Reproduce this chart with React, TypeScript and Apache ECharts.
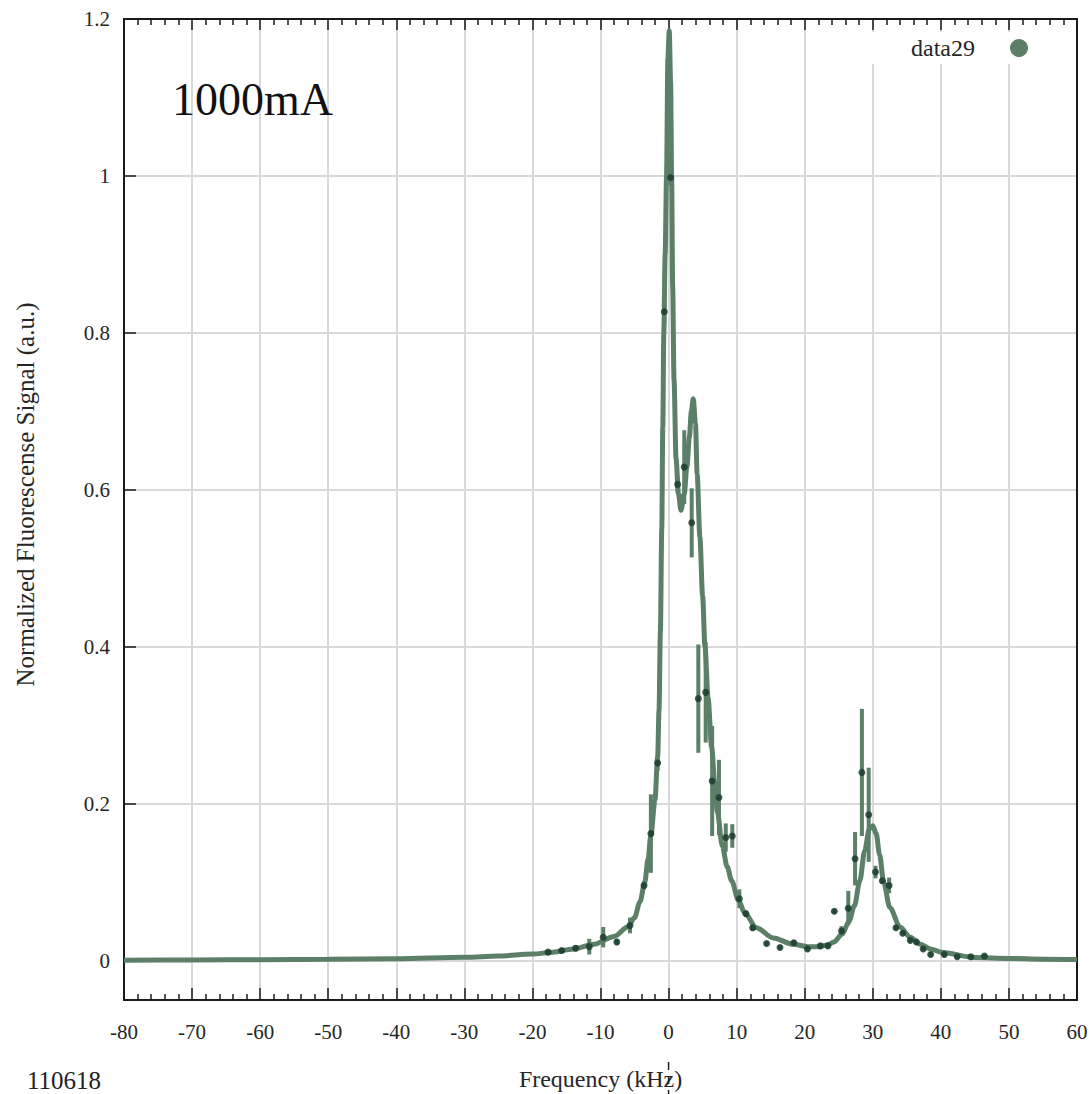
import React, { useEffect, useRef } from 'react';
import * as echarts from 'echarts';

// Measured points (frequency in kHz, normalized signal, error)
const pointFreq = [-17.7, -15.7, -13.65, -11.65, -9.6, -7.6, -5.67, -3.6, -2.6, -1.6, -0.63, 0.3, 1.33, 2.3, 3.4, 4.37, 5.45, 6.4, 7.4, 8.4, 9.36, 10.4, 11.37, 12.35, 14.4, 16.37, 18.4, 20.4, 22.3, 23.4, 24.35, 25.4, 26.4, 27.4, 28.4, 29.4, 30.4, 31.4, 32.4, 33.4, 34.4, 35.5, 36.4, 37.4, 38.5, 40.5, 42.4, 44.4, 46.4];
const pointSignal = [0.011, 0.013, 0.016, 0.018, 0.030, 0.024, 0.045, 0.096, 0.162, 0.252, 0.827, 0.998, 0.607, 0.629, 0.558, 0.334, 0.342, 0.229, 0.208, 0.157, 0.159, 0.079, 0.060, 0.042, 0.022, 0.017, 0.023, 0.015, 0.019, 0.019, 0.063, 0.038, 0.067, 0.130, 0.240, 0.186, 0.113, 0.102, 0.096, 0.042, 0.035, 0.026, 0.024, 0.015, 0.008, 0.008, 0.005, 0.005, 0.006];
const pointError = [0.003, 0.003, 0.004, 0.010, 0.013, 0.004, 0.010, 0.005, 0.050, 0.010, 0.015, 0.010, 0.010, 0.047, 0.044, 0.069, 0.064, 0.070, 0.048, 0.018, 0.015, 0.012, 0.004, 0.004, 0.003, 0.003, 0.003, 0.003, 0.003, 0.003, 0.003, 0.006, 0.022, 0.034, 0.081, 0.060, 0.008, 0.004, 0.010, 0.003, 0.003, 0.003, 0.003, 0.003, 0.003, 0.003, 0.003, 0.003, 0.003];

// Fitted curve
const fitFreq = [-80, -70, -60, -50, -40, -30, -25, -20, -17, -14, -11, -8, -6, -5, -4.2, -3.5, -3.0, -2.6, -2.0, -1.6, -1.4, -1.2, -1.0, -0.85, -0.7, -0.5, -0.3, -0.1, 0.1, 0.3, 0.45, 0.6, 0.8, 1.1, 1.45, 1.82, 2.3, 2.7, 3.05, 3.35, 3.63, 3.95, 4.2, 4.6, 5.0, 5.35, 5.8, 6.33, 6.8, 7.16, 7.9, 8.6, 9.27, 10.25, 11.2, 12.9, 15.4, 18.3, 20.5, 22, 23.3, 24.3, 25.5, 26.5, 27.3, 28.1, 28.8, 29.5, 30.0, 30.5, 31.0, 31.6, 32.5, 34, 35.5, 37, 38.5, 40, 45, 50, 55, 60];
const fitSignal = [0.0008, 0.001, 0.0013, 0.0018, 0.0027, 0.0045, 0.006, 0.0085, 0.011, 0.015, 0.021, 0.031, 0.043, 0.055, 0.075, 0.10, 0.13, 0.16, 0.205, 0.26, 0.32, 0.42, 0.55, 0.68, 0.80, 0.90, 1.0, 1.15, 1.185, 1.12, 1.0, 0.86, 0.74, 0.64, 0.595, 0.574, 0.595, 0.63, 0.667, 0.70, 0.716, 0.685, 0.62, 0.54, 0.465, 0.40, 0.335, 0.272, 0.225, 0.19, 0.146, 0.12, 0.102, 0.077, 0.061, 0.042, 0.029, 0.021, 0.018, 0.018, 0.020, 0.024, 0.034, 0.050, 0.070, 0.102, 0.140, 0.168, 0.172, 0.162, 0.135, 0.100, 0.068, 0.043, 0.030, 0.021, 0.015, 0.011, 0.004, 0.003, 0.002, 0.0015];

const yTickValues = [0, 0.2, 0.4, 0.6, 0.8, 1, 1.2];

const FONT = "'Liberation Serif', 'DejaVu Serif', serif";
const CURVE = '#5b7f67';
const DOT = '#17382a';
const AXIS = '#1a1a1a';
const LABEL = '#262626';
const GRID = '#d9d9d9';

export default function App() {
  const ref = useRef<HTMLDivElement>(null);
  useEffect(() => {
    const chart = echarts.init(ref.current!, undefined, { renderer: 'svg' });
    const texts = [
      {
        id: 'title',
        type: 'text',
        left: 172,
        top: 76,
        z: 50,
        style: { text: '1000mA', fontFamily: FONT, fontSize: 46, fill: '#111' },
      },
      {
        id: 'runId',
        type: 'text',
        left: 27,
        top: 1068,
        z: 50,
        style: { text: '110618', fontFamily: FONT, fontSize: 25, fill: '#222' },
      },
    ];
    const option: any = {
      animation: false,
      backgroundColor: '#ffffff',
      grid: { left: 124, right: 14, top: 19, bottom: 94, containLabel: false, outerBoundsMode: 'none' },
      legend: {
        data: [{ name: 'data29', icon: 'circle' }],
        right: 53,
        top: 32,
        align: 'right',
        itemWidth: 18,
        itemHeight: 18,
        padding: [4, 10, 4, 40],
        backgroundColor: '#ffffff',
        textStyle: { fontFamily: FONT, fontSize: 24, color: LABEL, padding: [0, 30, 0, 0] },
        selectedMode: false,
      },
      xAxis: [
        {
          type: 'value',
          position: 'bottom',
          min: -80,
          max: 60,
          interval: 10,
          name: 'Frequency (kHz)',
          nameLocation: 'middle',
          nameGap: 67,
          nameTextStyle: { fontFamily: FONT, fontSize: 24, color: LABEL },
          axisLine: { show: true, onZero: false, lineStyle: { color: AXIS, width: 2 } },
          axisTick: { show: true, inside: true, length: 12, lineStyle: { color: AXIS, width: 1.5 } },
          minorTick: { show: true, splitNumber: 5, length: 6, lineStyle: { color: AXIS, width: 1.5 } },
          axisLabel: { fontFamily: FONT, fontSize: 21, color: LABEL, margin: 21 },
          splitLine: { show: true, lineStyle: { color: GRID, width: 2 } },
        },
        {
          type: 'value',
          position: 'top',
          min: -80,
          max: 60,
          interval: 10,
          axisLine: { show: true, onZero: false, lineStyle: { color: AXIS, width: 2 } },
          axisTick: { show: true, inside: true, length: 11, lineStyle: { color: AXIS, width: 1.5 } },
          minorTick: { show: true, splitNumber: 5, length: 6, lineStyle: { color: AXIS, width: 1.5 } },
          axisLabel: { show: false },
          splitLine: { show: false },
        },
      ],
      yAxis: [
        {
          type: 'value',
          position: 'left',
          min: -0.05,
          max: 1.2,
          name: 'Normalized Fluorescense Signal (a.u.)',
          nameLocation: 'middle',
          nameGap: 86,
          nameTextStyle: { fontFamily: FONT, fontSize: 25, color: LABEL, padding: [0, 0, 0, 30] },
          axisLine: { show: true, onZero: false, lineStyle: { color: AXIS, width: 2 } },
          axisTick: { show: true, inside: true, length: 12, customValues: yTickValues, lineStyle: { color: AXIS, width: 1.5 } },
          axisLabel: { fontFamily: FONT, fontSize: 21, color: LABEL, margin: 14, customValues: yTickValues },
          splitLine: { show: true, lineStyle: { color: GRID, width: 2 } },
        },
        {
          type: 'value',
          position: 'right',
          min: -0.05,
          max: 1.2,
          axisLine: { show: true, onZero: false, lineStyle: { color: AXIS, width: 2 } },
          axisTick: { show: false },
          axisLabel: { show: false },
          splitLine: { show: false },
        },
      ],
      series: [
        {
          type: 'line',
          name: 'data29',
          data: fitFreq.map((x, i) => [x, fitSignal[i]]),
          showSymbol: false,
          smooth: 0.3,
          smoothMonotone: 'x',
          color: CURVE,
          lineStyle: { color: CURVE, width: 5 },
          z: 2,
          silent: true,
        },
        {
          type: 'custom',
          name: 'error',
          data: pointFreq.map((x, i) => [x, pointSignal[i] - pointError[i], pointSignal[i] + pointError[i]]),
          encode: { x: 0, y: [1, 2] },
          renderItem: (params: any, api: any) => {
            const lo = api.coord([api.value(0), api.value(1)]);
            const hi = api.coord([api.value(0), api.value(2)]);
            return {
              type: 'line',
              shape: { x1: lo[0], y1: lo[1], x2: hi[0], y2: hi[1] },
              style: { stroke: CURVE, lineWidth: 4 },
            };
          },
          z: 3,
          silent: true,
        },
        {
          type: 'scatter',
          name: 'points',
          data: pointFreq.map((x, i) => [x, pointSignal[i]]),
          symbol: 'circle',
          symbolSize: 7,
          itemStyle: { color: DOT },
          z: 4,
          silent: true,
        },
      ],
      graphic: texts,
    };
    chart.setOption(option);
    const x0 = chart.convertToPixel({ xAxisIndex: 0 }, 0) as number;
    chart.setOption({
      graphic: [
        ...texts,
        {
          id: 'zeroMark',
          type: 'line',
          z: 50,
          shape: { x1: x0, y1: 1062, x2: x0, y2: 1094 },
          style: { stroke: '#222', lineWidth: 1.5, lineDash: [8, 6] },
        },
      ],
    });
    return () => chart.dispose();
  }, []);
  return <div ref={ref} style={{ position: 'fixed', left: 0, top: 0, width: 1091, height: 1094 }} />;
}
